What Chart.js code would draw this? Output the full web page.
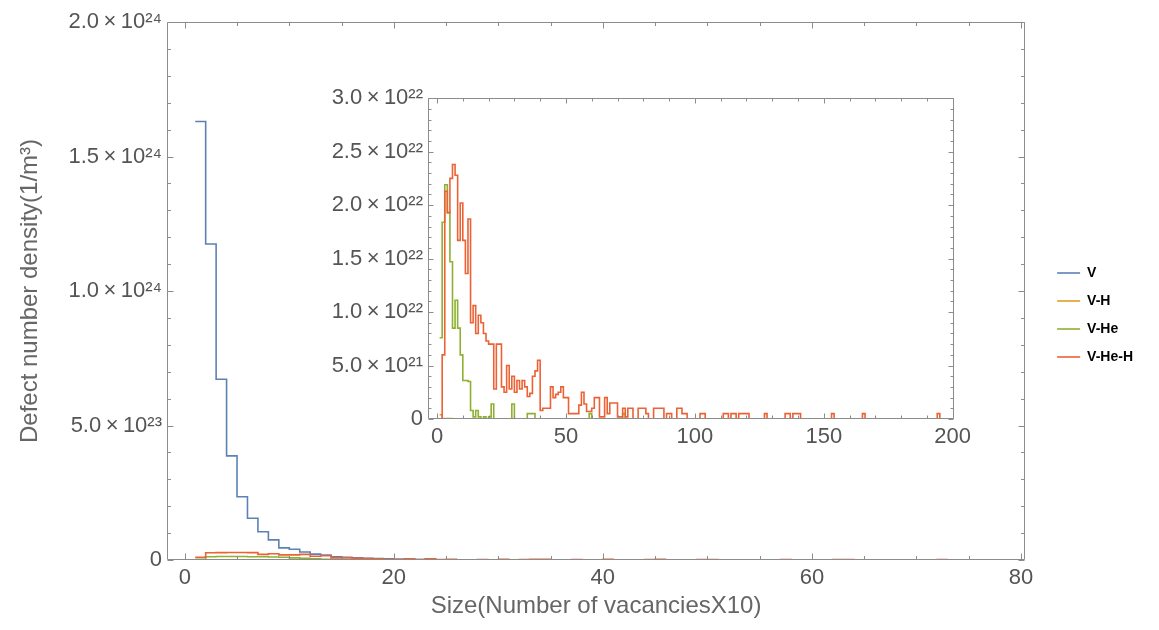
<!DOCTYPE html>
<html>
<head>
<meta charset="utf-8">
<script src="https://cdn.jsdelivr.net/npm/chart.js@4/dist/chart.umd.min.js"></script>
<style>
  html, body { margin: 0; padding: 0; background: #fff; }
  #wrap { position: relative; width: 1159px; height: 630px; }
  #main { position: absolute; left: 0; top: 0; }
  #inset { position: absolute; left: 300px; top: 80px; }
</style>
</head>
<body>
<div id="wrap">
  <canvas id="main" width="1159" height="630"></canvas>
  <canvas id="inset" width="680" height="375"></canvas>
</div>
<script>
// values are in units of 1e22 per m^3, first bin at x = 1
var UNIT = 1e22;
var seriesNames = ['V', 'V-H', 'V-He', 'V-He-H'];
var seriesColors = ['#5E81B5', '#E19C24', '#8FB032', '#EB6235'];

// main plot (x = size bin)
var mainV = [163, 117.5, 67.2, 38.7, 23.5, 15.5, 10.5, 7.5, 4.5, 4.0,
             3.0, 2.2, 1.8, 1.2, 1.0, 0.8, 0.6, 0.5, 0.4, 0.3,
             0.25, 0.2, 0.15, 0.1, 0.1, 0.05, 0.05, 0.05, 0.03, 0.02];
var mainVH = [0.1, 0.05, 0.05, 0.05, 0.03, 0.03, 0.02, 0.02, 0.01, 0.01];
var mainVHe = [0.3, 1.2, 1.3, 1.3, 1.3, 1.2, 1.2, 1.1, 1.0, 0.8,
               0.6, 0.4, 0.3, 0.2, 0.1, 0.1, 0.05, 0.05, 0.02, 0.02];
var mainVHeH = [1.0, 2.7, 2.75, 2.8, 2.8, 2.75, 2.1, 2.3, 1.9, 1.9,
                2.1, 1.4, 1.6, 0.8, 0.8, 0.6, 0.5, 0.4, 0.3, 0.3,
                0.4, 0.2, 0.4, 0.2, 0.3, 0.1, 0.1, 0.2, 0.1, 0.3,
                0.1, 0.2, 0.3, 0.3, 0.1, 0.1, 0.2, 0.1, 0.1, 0.3,
                0.1, 0.1, 0.1, 0.2, 0.3, 0.1, 0.1, 0.1, 0.2, 0.2,
                0.1, 0.1, 0.1, 0.1, 0.1, 0.1, 0.2, 0.1, 0.1, 0.1,
                0.1, 0.2, 0.2, 0.1, 0.1, 0.1, 0.1, 0.1, 0.1, 0.1,
                0.1, 0.2];

// inset plot
var insetVH = [0.04, 0.004, 0.004, 0.004, 0.004, 0.003, 0.003, 0.003, 0.003, 0.003,
               0.003, 0.003, 0.002, 0.002, 0.002, 0.002, 0.002, 0.002, 0.002, 0.002];
var insetVHe = [0.76, 1.84, 2.19, 1.93, 1.47, 0.85, 1.11, 0.85, 0.60, 0.36,
                0.36, 0.35, 0.08, 0.02, 0.08, 0.02, 0, 0.02, 0, 0.02,
                0.14, 0, 0, 0, 0, 0, 0, 0, 0.14, 0,
                0, 0, 0, 0, 0.05, 0.05, 0.05, 0, 0, 0,
                0, 0, 0, 0, 0, 0, 0, 0, 0, 0,
                0, 0, 0, 0, 0, 0, 0, 0, 0.05, 0,
                0, 0, 0, 0, 0, 0, 0, 0, 0, 0,
                0, 0.05, 0];
var insetVHeH = [0, 0.60, 2.13, 1.93, 2.25, 2.38, 2.28, 1.67, 2.02, 1.67,
                 1.36, 1.87, 0.90, 1.06, 0.80, 0.97, 0.90, 0.80, 0.73, 0.70,
                 0.70, 0.28, 0.70, 0.70, 0.30, 0.25, 0.50, 0.28, 0.40, 0.25,
                 0.36, 0.28, 0.36, 0.30, 0.21, 0.24, 0.40, 0.45, 0.55, 0.08,
                 0.10, 0.10, 0.10, 0.30, 0.20, 0.23, 0.25, 0.30, 0.20, 0.20,
                 0.05, 0.05, 0.05, 0.05, 0.13, 0.25, 0.14, 0.07, 0.07, 0.10,
                 0.20, 0.20, 0.02, 0.02, 0.20, 0.05, 0.15, 0.15, 0.15, 0.02,
                 0.02, 0.10, 0.02, 0.10, 0.10, 0, 0, 0.10, 0.10, 0.10,
                 0.05, 0, 0, 0.10, 0.10, 0.10, 0.10, 0, 0.05, 0.05,
                 0, 0, 0.10, 0.10, 0.05, 0.05, 0, 0, 0, 0,
                 0, 0.05, 0.05, 0, 0, 0, 0, 0, 0, 0,
                 0.05, 0.05, 0, 0.05, 0.05, 0, 0.05, 0.05, 0.05, 0.05,
                 0, 0, 0, 0, 0, 0, 0.05, 0, 0, 0,
                 0, 0, 0, 0, 0.05, 0.05, 0, 0.05, 0.05, 0.05,
                 0, 0, 0, 0, 0, 0, 0, 0, 0, 0,
                 0, 0, 0.05, 0, 0, 0, 0, 0, 0, 0,
                 0, 0, 0, 0, 0.05, 0, 0, 0, 0, 0,
                 0, 0, 0, 0, 0, 0, 0, 0, 0, 0,
                 0, 0, 0, 0, 0, 0, 0, 0, 0, 0,
                 0, 0, 0, 0.05, 0];

var mainXTicks = [0, 20, 40, 60, 80];
var mainYTicks = [0, 0.5e24, 1.0e24, 1.5e24, 2.0e24];
var insetXTicks = [0, 50, 100, 150, 200];
var insetYTicks = [0, 0.5e22, 1.0e22, 1.5e22, 2.0e22, 2.5e22, 3.0e22];

var FONT = "'Liberation Sans', Arial, Helvetica, sans-serif";
var TICK_COLOR = '#555';
var FRAME_COLOR = '#8c8c8c';

Chart.defaults.font.family = FONT;

var SUP = {'0': '\u2070', '1': '\u00B9', '2': '\u00B2', '3': '\u00B3', '4': '\u2074',
           '5': '\u2075', '6': '\u2076', '7': '\u2077', '8': '\u2078', '9': '\u2079'};

function sciLabel(v) {
  if (v === 0) return '0';
  var e = Math.floor(Math.log10(Math.abs(v)) + 1e-9);
  var m = v / Math.pow(10, e);
  var sup = String(e).split('').map(function (c) { return SUP[c]; }).join('');
  return m.toFixed(1) + '\u2009\u00D7\u200910' + sup;
}

// histogram steps: each value holds from x to x+1
function steps(vals) {
  var pts = vals.map(function (v, i) { return {x: i + 1, y: v * UNIT}; });
  if (vals.length) pts.push({x: vals.length + 1, y: vals[vals.length - 1] * UNIT});
  return pts;
}

function makeDatasets(list) {
  return list.map(function (vals, k) {
    return {
      label: seriesNames[k],
      data: steps(vals),
      borderColor: seriesColors[k],
      backgroundColor: seriesColors[k],
      borderWidth: 1.6,
      stepped: 'before',
      pointRadius: 0,
      fill: false,
      order: list.length - k
    };
  });
}

// Mathematica style frame with inward ticks on all sides
var frameTicks = {
  id: 'frameTicks',
  afterDatasetsDraw: function (chart, args, o) {
    var ctx = chart.ctx, a = chart.chartArea;
    var xs = chart.scales.x, ys = chart.scales.y;
    var L = Math.round(a.left) + 0.5, R = Math.round(a.right) - 0.5;
    var T = Math.round(a.top) + 0.5, B = Math.round(a.bottom) - 0.5;
    ctx.save();
    ctx.strokeStyle = o.color;
    ctx.lineWidth = 1;
    ctx.beginPath();
    ctx.rect(L, T, R - L, B - T);
    ctx.stroke();
    ctx.beginPath();
    var i, v, len, p;
    for (i = Math.ceil(xs.min / o.xMinor); i * o.xMinor <= xs.max; i++) {
      v = i * o.xMinor;
      len = Math.abs(v / o.xMajor - Math.round(v / o.xMajor)) < 1e-6 ? o.major : o.minor;
      p = Math.round(xs.getPixelForValue(v)) + 0.5;
      ctx.moveTo(p, B); ctx.lineTo(p, B - len);
      ctx.moveTo(p, T); ctx.lineTo(p, T + len);
    }
    for (i = Math.ceil(ys.min / o.yMinor - 1e-6); i * o.yMinor <= ys.max * (1 + 1e-9); i++) {
      v = i * o.yMinor;
      len = Math.abs(v / o.yMajor - Math.round(v / o.yMajor)) < 1e-6 ? o.major : o.minor;
      p = Math.round(ys.getPixelForValue(v)) + 0.5;
      ctx.moveTo(L, p); ctx.lineTo(L + len, p);
      ctx.moveTo(R, p); ctx.lineTo(R - len, p);
    }
    ctx.stroke();
    ctx.restore();
  }
};

function fixedTicks(list) {
  return function (scale) {
    scale.ticks = list.map(function (v) { return {value: v}; });
  };
}

var tickFont = {size: 22};
var titleFont = {size: 24};

new Chart(document.getElementById('main'), {
  type: 'line',
  data: {datasets: makeDatasets([mainV, mainVH, mainVHe, mainVHeH])},
  options: {
    responsive: false,
    animation: false,
    events: [],
    layout: {padding: {left: 0, right: 16, top: 0, bottom: 0}},
    scales: {
      x: {
        type: 'linear', position: 'bottom', min: -1.7, max: 80.4,
        afterBuildTicks: fixedTicks(mainXTicks),
        afterFit: function (s) { s.height = 70; },
        grid: {display: false, drawTicks: false},
        border: {display: false},
        ticks: {autoSkip: false, maxRotation: 0, padding: 5, color: TICK_COLOR, font: tickFont,
                callback: function (v) { return String(v); }},
        title: {display: true, text: 'Size(Number of vacanciesX10)', color: '#666', font: titleFont,
                padding: {top: 0, bottom: 9}}
      },
      xt: {
        type: 'linear', position: 'top', display: true,
        afterFit: function (s) { s.height = 22; },
        grid: {display: false, drawTicks: false}, border: {display: false}, ticks: {display: false}
      },
      y: {
        type: 'linear', position: 'left', min: 0, max: 2e24,
        afterBuildTicks: fixedTicks(mainYTicks),
        afterFit: function (s) { s.width = 167; },
        grid: {display: false, drawTicks: false},
        border: {display: false},
        ticks: {padding: 5, color: TICK_COLOR, font: tickFont, callback: sciLabel},
        title: {display: true, text: 'Defect number density(1/m\u00B3)', color: '#666', font: titleFont,
                padding: {top: 16, bottom: 0}}
      },
      yr: {
        type: 'linear', position: 'right', display: true,
        afterFit: function (s) { s.width = 18; },
        grid: {display: false, drawTicks: false}, border: {display: false}, ticks: {display: false}
      }
    },
    plugins: {
      legend: {
        position: 'right', align: 'center',
        labels: {
          usePointStyle: true, pointStyle: 'line', pointStyleWidth: 23, padding: 14,
          color: '#000', font: {size: 14, weight: 'bold'},
          sort: function (a, b) { return a.datasetIndex - b.datasetIndex; }
        }
      },
      tooltip: {enabled: false},
      frameTicks: {color: FRAME_COLOR, xMinor: 5, xMajor: 20, yMinor: 0.1e24, yMajor: 0.5e24, major: 6, minor: 3.5}
    }
  },
  plugins: [frameTicks]
});

// the inset shows no V series, so its slot stays empty
new Chart(document.getElementById('inset'), {
  type: 'line',
  data: {datasets: makeDatasets([[], insetVH, insetVHe, insetVHeH])},
  options: {
    responsive: false,
    animation: false,
    events: [],
    layout: {padding: {left: 0, right: 26, top: 14, bottom: 0}},
    scales: {
      x: {
        type: 'linear', position: 'bottom', min: -3.5, max: 200.5,
        afterBuildTicks: fixedTicks(insetXTicks),
        afterFit: function (s) { s.height = 36; },
        grid: {display: false, drawTicks: false},
        border: {display: false},
        ticks: {autoSkip: false, maxRotation: 0, padding: 5, color: TICK_COLOR, font: tickFont,
                callback: function (v) { return String(v); }}
      },
      y: {
        type: 'linear', position: 'left', min: 0, max: 3e22,
        afterBuildTicks: fixedTicks(insetYTicks),
        afterFit: function (s) { s.width = 128; },
        grid: {display: false, drawTicks: false},
        border: {display: false},
        ticks: {padding: 5, color: TICK_COLOR, font: tickFont, callback: sciLabel}
      }
    },
    plugins: {
      legend: {display: false},
      tooltip: {enabled: false},
      frameTicks: {color: FRAME_COLOR, xMinor: 10, xMajor: 50, yMinor: 0.1e22, yMajor: 0.5e22, major: 5, minor: 3}
    }
  },
  plugins: [frameTicks]
});
</script>
</body>
</html>
